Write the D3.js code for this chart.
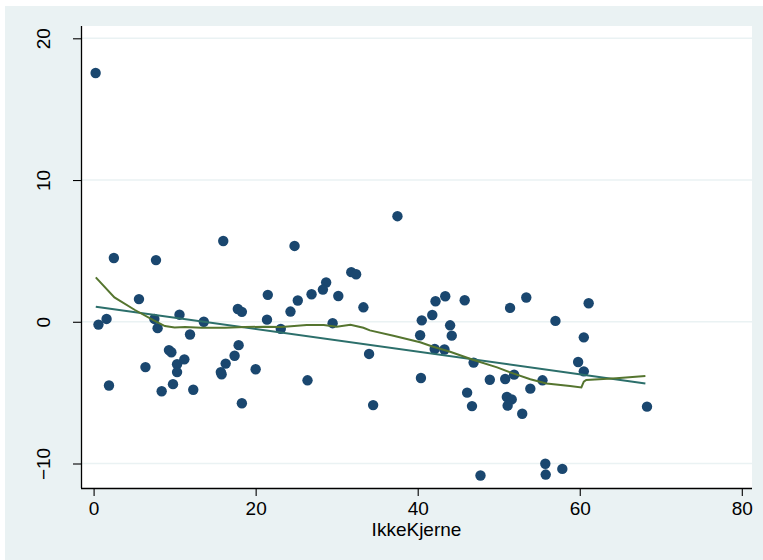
<!DOCTYPE html>
<html>
<head>
<meta charset="utf-8">
<script src="https://cdn.jsdelivr.net/npm/d3@7"></script>
<style>
  html, body { margin: 0; padding: 0; background: #fff; }
  svg { display: block; }
</style>
</head>
<body>
<svg id="chart" width="763" height="560"></svg>
<script>
// Scatter points (IkkeKjerne, residual)
const xVals = [
  0.25, 0.6, 1.6, 1.9, 2.5, 5.6, 6.4, 7.5, 7.7, 7.9,
  8.4, 9.3, 9.6, 9.8, 10.3, 10.3, 10.6, 11.2, 11.9, 12.3,
  13.6, 15.7, 15.8, 16.0, 16.3, 17.4, 17.8, 17.9, 18.3, 18.3,
  20.0, 21.5, 21.4, 23.1, 24.8, 31.8, 32.4, 28.7, 28.3, 26.9,
  30.2, 25.2, 24.3, 33.3, 29.5, 26.4, 34.0, 34.5, 37.5, 42.2,
  41.8, 40.5, 40.3, 42.1, 43.3, 40.4, 43.4, 45.8, 44.0, 44.2,
  46.9, 46.1, 46.7, 48.9, 50.8, 51.9, 51.4, 53.4, 53.9, 51.0,
  51.6, 51.1, 52.9, 55.4, 57.0, 59.8, 60.5, 60.5, 61.1, 55.75,
  55.8, 57.85, 47.75, 68.3
];
const yVals = [
  17.55, -0.2, 0.2, -4.5, 4.5, 1.6, -3.2, 0.2, 4.35, -0.45,
  -4.9, -2.0, -2.15, -4.4, -3.0, -3.55, 0.5, -2.65, -0.9, -4.8,
  0.0, -3.55, -3.7, 5.7, -2.95, -2.4, 0.9, -1.65, 0.7, -5.75,
  -3.35, 1.9, 0.15, -0.5, 5.35, 3.5, 3.35, 2.77, 2.27, 1.94,
  1.82, 1.5, 0.72, 1.02, -0.1, -4.13, -2.27, -5.88, 7.45, 1.45,
  0.48, 0.1, -0.95, -1.92, -1.96, -3.97, 1.8, 1.52, -0.25, -0.98,
  -2.88, -5.0, -5.95, -4.09, -4.04, -3.73, 0.98, 1.71, -4.72, -5.31,
  -5.48, -5.92, -6.49, -4.13, 0.06, -2.84, -1.1, -3.5, 1.31, -10.02,
  -10.78, -10.38, -10.85, -5.99
];

// Linear fit
const fitX = [0.27, 68.1];
const fitY = [1.06, -4.35];

// Lowess curve
const lowX = [0.27, 2.57, 5.1, 7.37, 8.8, 10.0, 11.3, 13.3, 16.2, 18.7, 21.1, 23.2,
  26.3, 28.4, 30.0, 31.7, 33.3, 34.1, 37.0, 40.3, 41.9, 44.0, 46.9, 49.8, 51.4,
  53.9, 55.9, 58.8, 60.2, 60.5, 60.8, 64.5, 68.1];
const lowY = [3.13, 1.72, 0.83, 0.12, -0.3, -0.4, -0.37, -0.42, -0.42, -0.37, -0.35, -0.37,
  -0.23, -0.23, -0.35, -0.21, -0.42, -0.61, -0.99, -1.45, -1.76, -2.12, -2.7, -3.22, -3.57,
  -4.06, -4.35, -4.54, -4.63, -4.23, -4.11, -3.99, -3.83];

const xTicks = [0, 20, 40, 60, 80];
const yTicks = [-10, 0, 10, 20];

const BG = "#eaf2f3";
const NAVY = "#1a476f";
const FIT = "#2c6f6b";
const LOWESS = "#55752f";
const FONT = "'Liberation Sans', Arial, sans-serif";

const PLOT = { left: 81, right: 752, top: 26, bottom: 488 };

const svg = d3.select("#chart");

// outer background
svg.append("rect")
  .attr("x", 5).attr("y", 6)
  .attr("width", 758).attr("height", 554)
  .attr("fill", BG);

// plot region
svg.append("rect")
  .attr("x", PLOT.left).attr("y", PLOT.top)
  .attr("width", PLOT.right - PLOT.left)
  .attr("height", PLOT.bottom - PLOT.top)
  .attr("fill", "#fff");

const x = d3.scaleLinear().domain([0, 80]).range([93.6, 741.8]);
const y = d3.scaleLinear().domain([-10, 20]).range([463.5, 38.3]);

// grid lines
svg.append("g")
  .selectAll("line")
  .data(yTicks)
  .join("line")
  .attr("x1", PLOT.left).attr("x2", PLOT.right)
  .attr("y1", d => y(d)).attr("y2", d => y(d))
  .attr("stroke", BG)
  .attr("stroke-width", 1.6);

// axes
const xAxis = d3.axisBottom(x).tickValues(xTicks).tickSize(8).tickPadding(6);
const yAxis = d3.axisLeft(y).tickValues(yTicks).tickSize(8).tickPadding(0);

const gx = svg.append("g")
  .attr("transform", `translate(0, ${PLOT.bottom})`)
  .call(xAxis);
gx.select(".domain")
  .attr("d", `M${PLOT.left},0.5H${PLOT.right}`);

const gy = svg.append("g")
  .attr("transform", `translate(${PLOT.left}, 0)`)
  .call(yAxis);
gy.select(".domain")
  .attr("d", `M0.5,${PLOT.top}V${PLOT.bottom}`);

svg.selectAll(".domain").attr("stroke", "#000").attr("stroke-width", 1.3);
svg.selectAll(".tick line").attr("stroke", "#000").attr("stroke-width", 1.1);

gx.selectAll(".tick text")
  .attr("font-family", FONT)
  .attr("font-size", 19)
  .attr("fill", "#000");

gy.selectAll(".tick text")
  .attr("font-family", FONT)
  .attr("font-size", 19)
  .attr("fill", "#000")
  .attr("x", 0)
  .attr("dy", 0)
  .attr("text-anchor", "middle")
  .attr("transform", "translate(-31, 0) rotate(-90)");

// axis title
svg.append("text")
  .attr("x", (PLOT.left + PLOT.right) / 2)
  .attr("y", 536)
  .attr("text-anchor", "middle")
  .attr("font-family", FONT)
  .attr("font-size", 19)
  .attr("fill", "#000")
  .text("IkkeKjerne");

// scatter
svg.append("g")
  .selectAll("circle")
  .data(xVals.map((d, i) => [d, yVals[i]]))
  .join("circle")
  .attr("cx", d => x(d[0]))
  .attr("cy", d => y(d[1]))
  .attr("r", 5.2)
  .attr("fill", NAVY);

// linear fit
const line = d3.line().x(d => x(d[0])).y(d => y(d[1]));
svg.append("path")
  .datum(fitX.map((d, i) => [d, fitY[i]]))
  .attr("d", line)
  .attr("fill", "none")
  .attr("stroke", FIT)
  .attr("stroke-width", 2);

// lowess
svg.append("path")
  .datum(lowX.map((d, i) => [d, lowY[i]]))
  .attr("d", line)
  .attr("fill", "none")
  .attr("stroke", LOWESS)
  .attr("stroke-width", 2);
</script>
</body>
</html>
